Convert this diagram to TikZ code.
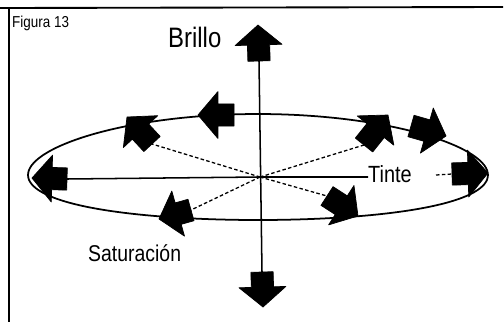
\documentclass[tikz,border=0pt]{standalone}
\usepackage{fontspec}
\setmainfont{Liberation Sans}[FakeStretch=0.85]
\usepackage{tikz}
\usetikzlibrary{calc}

\begin{document}
\begin{tikzpicture}[
    x=0.03cm, y=-0.03cm,
    frame/.style={draw=black, line width=1.6pt},
    rim/.style  ={draw=black, line width=1.5pt},
    ax/.style   ={draw=black, line width=1.3pt},
    ray/.style  ={draw=black, line width=1.1pt, dash pattern=on 3pt off 2pt},
    fat/.style  ={fill=black, draw=black, line width=0.6pt, line join=round},
    lbl/.style  ={font=\fontsize{20}{24}\selectfont, inner sep=0pt, anchor=base west}
  ]
  \useasboundingbox (0,0) rectangle (504,322);

  %% ---- frame (only top and left edges show) -------------------------
  \draw[frame] (0,8) -- (503,7);
  \draw[frame] (9,8) -- (9,322);
  \node[lbl, font=\fontsize{13.5}{15}\selectfont] (fig) at (12,27) {Figura 13};

  %% ---- hue ring ----------------------------------------------------
  \draw[rim] plot[domain=0:360, samples=73, smooth cycle]
    ({258+230*cos(\x)}, {167-53*sin(\x)+8*cos(\x)*cos(\x)});

  %% ---- points ------------------------------------------------------
  \coordinate (o)   at (260,177);
  \coordinate (upT) at (259,61);   \coordinate (up)  at (258,25);
  \coordinate (dnT) at (262,272);  \coordinate (dn)  at (263,307);
  \coordinate (lfT) at (67,179);   \coordinate (lf)  at (32,178);
  \coordinate (rtT) at (452,174);  \coordinate (rt)  at (488,173);
  \coordinate (tpT) at (234,115);  \coordinate (tp)  at (198,115);
  \coordinate (ulT) at (152,144);  \coordinate (ul)  at (127,117);
  \coordinate (urT) at (364,145);  \coordinate (ur)  at (388,115);
  \coordinate (trT) at (411,126);  \coordinate (tr)  at (446,136);
  \coordinate (blT) at (191,210);  \coordinate (bl)  at (159,219);
  \coordinate (brT) at (327,196);  \coordinate (br)  at (358,216);
  \coordinate (rtD) at (436,175);

  %% ---- labels ------------------------------------------------------
  \node[lbl, font=\fontsize{24}{28}\selectfont] (brillo) at (168,47) {Brillo};
  \node[lbl] (tinte) at (368,182) {Tinte};
  \node[lbl, font=\fontsize{19.5}{23}\selectfont] (sat) at (88,261) {Saturación};

  %% ---- axes and rays -----------------------------------------------
  \draw[ax] (upT) -- (dnT);
  \draw[ax] (lfT) -- (o) -- (tinte.west |- o);
  \draw[ray] (rtD) -- (rtT);
  \foreach \t in {ulT, urT, blT, brT}
    \draw[ray] (o) -- (\t);

  %% ---- block arrows (tail -> tip) ----------------------------------
  \foreach \a/\b in {upT/up, dnT/dn, lfT/lf, rtT/rt, tpT/tp,
                     ulT/ul, urT/ur, trT/tr, blT/bl, brT/br} {
    \coordinate (h) at ($(\b)!17pt!(\a)$);
    \filldraw[fat] ($(\a)!9.5pt!90:(\b)$) -- ($(h)!9.5pt!90:(\b)$)
      -- ($(h)!20pt!90:(\b)$) -- (\b) -- ($(h)!20pt!-90:(\b)$)
      -- ($(h)!9.5pt!-90:(\b)$) -- ($(\a)!9.5pt!-90:(\b)$) -- cycle;
  }

\end{tikzpicture}
\end{document}
